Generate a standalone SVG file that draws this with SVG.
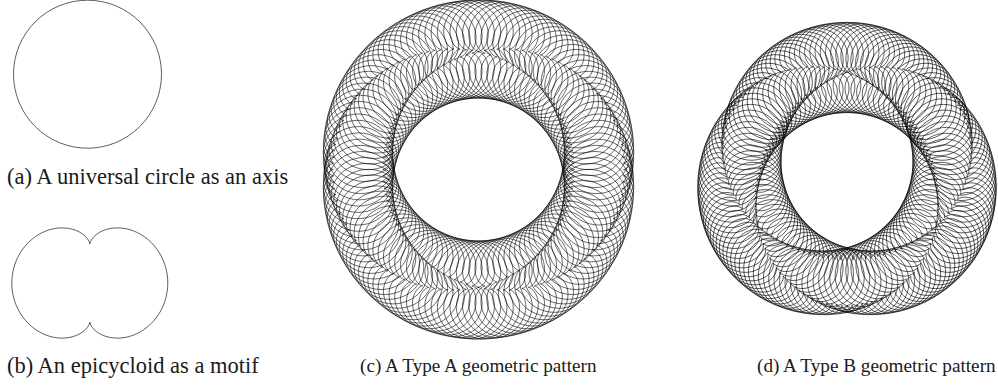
<svg xmlns="http://www.w3.org/2000/svg" xmlns:xlink="http://www.w3.org/1999/xlink" width="998" height="385" viewBox="0 0 998 385">
<style>
.lbl{font-family:"Liberation Serif","Times New Roman",serif;fill:#1a1a1a}
.big{font-size:22.5px}
.sm{font-size:19.2px}
.pat{fill:none;stroke:#000}
</style>
<defs>
<path id="u" d="M2,0C2,0 2.0733,0.0016 2.1907,0.0694C2.308,0.1371 2.4672,0.2733 2.5981,0.5C2.729,0.7267 2.8284,1.044 2.8284,1.4142C2.8284,1.7845 2.7267,2.2054 2.5,2.5981C2.2733,2.9908 1.9216,3.352 1.4836,3.6049C1.0456,3.8578 0.5236,4 0,4C-0.5236,4 -1.0456,3.8578 -1.4836,3.6049C-1.9216,3.352 -2.2733,2.9908 -2.5,2.5981C-2.7267,2.2054 -2.8284,1.7845 -2.8284,1.4142C-2.8284,1.044 -2.729,0.7267 -2.5981,0.5C-2.4672,0.2733 -2.308,0.1371 -2.1907,0.0694C-2.0733,0.0016 -2,0 -2,0C-2,0 -2.0733,-0.0016 -2.1907,-0.0694C-2.308,-0.1371 -2.4672,-0.2733 -2.5981,-0.5C-2.729,-0.7267 -2.8284,-1.044 -2.8284,-1.4142C-2.8284,-1.7845 -2.7267,-2.2054 -2.5,-2.5981C-2.2733,-2.9908 -1.9216,-3.352 -1.4836,-3.6049C-1.0456,-3.8578 -0.5236,-4 0,-4C0.5236,-4 1.0456,-3.8578 1.4836,-3.6049C1.9216,-3.352 2.2733,-2.9908 2.5,-2.5981C2.7267,-2.2054 2.8284,-1.7845 2.8284,-1.4142C2.8284,-1.044 2.729,-0.7267 2.5981,-0.5C2.4672,-0.2733 2.308,-0.1371 2.1907,-0.0694C2.0733,-0.0016 2,0 2,0Z"/>
<use id="nc" xlink:href="#u" href="#u" transform="scale(12.3)" stroke-width="0.048"/>
<use id="nd" xlink:href="#u" href="#u" transform="scale(11.3)" stroke-width="0.052"/>
</defs>
<rect width="998" height="385" fill="#fff"/>
<g id="fig-a">
<circle cx="87.5" cy="74.2" r="74" fill="none" stroke="#333" stroke-width="0.8"/>
<text class="lbl big" x="7" y="184">(a) A universal circle as an axis</text>
</g>
<g id="fig-b">
<use xlink:href="#u" href="#u" transform="translate(89.8,283) rotate(90) scale(19.5)" fill="none" stroke="#333" stroke-width="0.041"/>
<text class="lbl big" x="7" y="373">(b) An epicycloid as a motif</text>
</g>
<g id="fig-c">
<g class="pat" transform="translate(478.5,169.5)">
<use href="#nc" transform="rotate(0) translate(120.5) rotate(0)"/>
<use href="#nc" transform="rotate(3) translate(120.5) rotate(-3)"/>
<use href="#nc" transform="rotate(6) translate(120.5) rotate(-6)"/>
<use href="#nc" transform="rotate(9) translate(120.5) rotate(-9)"/>
<use href="#nc" transform="rotate(12) translate(120.5) rotate(-12)"/>
<use href="#nc" transform="rotate(15) translate(120.5) rotate(-15)"/>
<use href="#nc" transform="rotate(18) translate(120.5) rotate(-18)"/>
<use href="#nc" transform="rotate(21) translate(120.5) rotate(-21)"/>
<use href="#nc" transform="rotate(24) translate(120.5) rotate(-24)"/>
<use href="#nc" transform="rotate(27) translate(120.5) rotate(-27)"/>
<use href="#nc" transform="rotate(30) translate(120.5) rotate(-30)"/>
<use href="#nc" transform="rotate(33) translate(120.5) rotate(-33)"/>
<use href="#nc" transform="rotate(36) translate(120.5) rotate(-36)"/>
<use href="#nc" transform="rotate(39) translate(120.5) rotate(-39)"/>
<use href="#nc" transform="rotate(42) translate(120.5) rotate(-42)"/>
<use href="#nc" transform="rotate(45) translate(120.5) rotate(-45)"/>
<use href="#nc" transform="rotate(48) translate(120.5) rotate(-48)"/>
<use href="#nc" transform="rotate(51) translate(120.5) rotate(-51)"/>
<use href="#nc" transform="rotate(54) translate(120.5) rotate(-54)"/>
<use href="#nc" transform="rotate(57) translate(120.5) rotate(-57)"/>
<use href="#nc" transform="rotate(60) translate(120.5) rotate(-60)"/>
<use href="#nc" transform="rotate(63) translate(120.5) rotate(-63)"/>
<use href="#nc" transform="rotate(66) translate(120.5) rotate(-66)"/>
<use href="#nc" transform="rotate(69) translate(120.5) rotate(-69)"/>
<use href="#nc" transform="rotate(72) translate(120.5) rotate(-72)"/>
<use href="#nc" transform="rotate(75) translate(120.5) rotate(-75)"/>
<use href="#nc" transform="rotate(78) translate(120.5) rotate(-78)"/>
<use href="#nc" transform="rotate(81) translate(120.5) rotate(-81)"/>
<use href="#nc" transform="rotate(84) translate(120.5) rotate(-84)"/>
<use href="#nc" transform="rotate(87) translate(120.5) rotate(-87)"/>
<use href="#nc" transform="rotate(90) translate(120.5) rotate(-90)"/>
<use href="#nc" transform="rotate(93) translate(120.5) rotate(-93)"/>
<use href="#nc" transform="rotate(96) translate(120.5) rotate(-96)"/>
<use href="#nc" transform="rotate(99) translate(120.5) rotate(-99)"/>
<use href="#nc" transform="rotate(102) translate(120.5) rotate(-102)"/>
<use href="#nc" transform="rotate(105) translate(120.5) rotate(-105)"/>
<use href="#nc" transform="rotate(108) translate(120.5) rotate(-108)"/>
<use href="#nc" transform="rotate(111) translate(120.5) rotate(-111)"/>
<use href="#nc" transform="rotate(114) translate(120.5) rotate(-114)"/>
<use href="#nc" transform="rotate(117) translate(120.5) rotate(-117)"/>
<use href="#nc" transform="rotate(120) translate(120.5) rotate(-120)"/>
<use href="#nc" transform="rotate(123) translate(120.5) rotate(-123)"/>
<use href="#nc" transform="rotate(126) translate(120.5) rotate(-126)"/>
<use href="#nc" transform="rotate(129) translate(120.5) rotate(-129)"/>
<use href="#nc" transform="rotate(132) translate(120.5) rotate(-132)"/>
<use href="#nc" transform="rotate(135) translate(120.5) rotate(-135)"/>
<use href="#nc" transform="rotate(138) translate(120.5) rotate(-138)"/>
<use href="#nc" transform="rotate(141) translate(120.5) rotate(-141)"/>
<use href="#nc" transform="rotate(144) translate(120.5) rotate(-144)"/>
<use href="#nc" transform="rotate(147) translate(120.5) rotate(-147)"/>
<use href="#nc" transform="rotate(150) translate(120.5) rotate(-150)"/>
<use href="#nc" transform="rotate(153) translate(120.5) rotate(-153)"/>
<use href="#nc" transform="rotate(156) translate(120.5) rotate(-156)"/>
<use href="#nc" transform="rotate(159) translate(120.5) rotate(-159)"/>
<use href="#nc" transform="rotate(162) translate(120.5) rotate(-162)"/>
<use href="#nc" transform="rotate(165) translate(120.5) rotate(-165)"/>
<use href="#nc" transform="rotate(168) translate(120.5) rotate(-168)"/>
<use href="#nc" transform="rotate(171) translate(120.5) rotate(-171)"/>
<use href="#nc" transform="rotate(174) translate(120.5) rotate(-174)"/>
<use href="#nc" transform="rotate(177) translate(120.5) rotate(-177)"/>
<use href="#nc" transform="rotate(180) translate(120.5) rotate(-180)"/>
<use href="#nc" transform="rotate(183) translate(120.5) rotate(-183)"/>
<use href="#nc" transform="rotate(186) translate(120.5) rotate(-186)"/>
<use href="#nc" transform="rotate(189) translate(120.5) rotate(-189)"/>
<use href="#nc" transform="rotate(192) translate(120.5) rotate(-192)"/>
<use href="#nc" transform="rotate(195) translate(120.5) rotate(-195)"/>
<use href="#nc" transform="rotate(198) translate(120.5) rotate(-198)"/>
<use href="#nc" transform="rotate(201) translate(120.5) rotate(-201)"/>
<use href="#nc" transform="rotate(204) translate(120.5) rotate(-204)"/>
<use href="#nc" transform="rotate(207) translate(120.5) rotate(-207)"/>
<use href="#nc" transform="rotate(210) translate(120.5) rotate(-210)"/>
<use href="#nc" transform="rotate(213) translate(120.5) rotate(-213)"/>
<use href="#nc" transform="rotate(216) translate(120.5) rotate(-216)"/>
<use href="#nc" transform="rotate(219) translate(120.5) rotate(-219)"/>
<use href="#nc" transform="rotate(222) translate(120.5) rotate(-222)"/>
<use href="#nc" transform="rotate(225) translate(120.5) rotate(-225)"/>
<use href="#nc" transform="rotate(228) translate(120.5) rotate(-228)"/>
<use href="#nc" transform="rotate(231) translate(120.5) rotate(-231)"/>
<use href="#nc" transform="rotate(234) translate(120.5) rotate(-234)"/>
<use href="#nc" transform="rotate(237) translate(120.5) rotate(-237)"/>
<use href="#nc" transform="rotate(240) translate(120.5) rotate(-240)"/>
<use href="#nc" transform="rotate(243) translate(120.5) rotate(-243)"/>
<use href="#nc" transform="rotate(246) translate(120.5) rotate(-246)"/>
<use href="#nc" transform="rotate(249) translate(120.5) rotate(-249)"/>
<use href="#nc" transform="rotate(252) translate(120.5) rotate(-252)"/>
<use href="#nc" transform="rotate(255) translate(120.5) rotate(-255)"/>
<use href="#nc" transform="rotate(258) translate(120.5) rotate(-258)"/>
<use href="#nc" transform="rotate(261) translate(120.5) rotate(-261)"/>
<use href="#nc" transform="rotate(264) translate(120.5) rotate(-264)"/>
<use href="#nc" transform="rotate(267) translate(120.5) rotate(-267)"/>
<use href="#nc" transform="rotate(270) translate(120.5) rotate(-270)"/>
<use href="#nc" transform="rotate(273) translate(120.5) rotate(-273)"/>
<use href="#nc" transform="rotate(276) translate(120.5) rotate(-276)"/>
<use href="#nc" transform="rotate(279) translate(120.5) rotate(-279)"/>
<use href="#nc" transform="rotate(282) translate(120.5) rotate(-282)"/>
<use href="#nc" transform="rotate(285) translate(120.5) rotate(-285)"/>
<use href="#nc" transform="rotate(288) translate(120.5) rotate(-288)"/>
<use href="#nc" transform="rotate(291) translate(120.5) rotate(-291)"/>
<use href="#nc" transform="rotate(294) translate(120.5) rotate(-294)"/>
<use href="#nc" transform="rotate(297) translate(120.5) rotate(-297)"/>
<use href="#nc" transform="rotate(300) translate(120.5) rotate(-300)"/>
<use href="#nc" transform="rotate(303) translate(120.5) rotate(-303)"/>
<use href="#nc" transform="rotate(306) translate(120.5) rotate(-306)"/>
<use href="#nc" transform="rotate(309) translate(120.5) rotate(-309)"/>
<use href="#nc" transform="rotate(312) translate(120.5) rotate(-312)"/>
<use href="#nc" transform="rotate(315) translate(120.5) rotate(-315)"/>
<use href="#nc" transform="rotate(318) translate(120.5) rotate(-318)"/>
<use href="#nc" transform="rotate(321) translate(120.5) rotate(-321)"/>
<use href="#nc" transform="rotate(324) translate(120.5) rotate(-324)"/>
<use href="#nc" transform="rotate(327) translate(120.5) rotate(-327)"/>
<use href="#nc" transform="rotate(330) translate(120.5) rotate(-330)"/>
<use href="#nc" transform="rotate(333) translate(120.5) rotate(-333)"/>
<use href="#nc" transform="rotate(336) translate(120.5) rotate(-336)"/>
<use href="#nc" transform="rotate(339) translate(120.5) rotate(-339)"/>
<use href="#nc" transform="rotate(342) translate(120.5) rotate(-342)"/>
<use href="#nc" transform="rotate(345) translate(120.5) rotate(-345)"/>
<use href="#nc" transform="rotate(348) translate(120.5) rotate(-348)"/>
<use href="#nc" transform="rotate(351) translate(120.5) rotate(-351)"/>
<use href="#nc" transform="rotate(354) translate(120.5) rotate(-354)"/>
<use href="#nc" transform="rotate(357) translate(120.5) rotate(-357)"/>
</g>
<text class="lbl sm" x="360" y="372">(c) A Type A geometric pattern</text>
</g>
<g id="fig-d">
<g class="pat" transform="translate(847,175)">
<use href="#nd" transform="rotate(0) translate(107.5) rotate(135)"/>
<use href="#nd" transform="rotate(3) translate(107.5) rotate(130.5)"/>
<use href="#nd" transform="rotate(6) translate(107.5) rotate(126)"/>
<use href="#nd" transform="rotate(9) translate(107.5) rotate(121.5)"/>
<use href="#nd" transform="rotate(12) translate(107.5) rotate(117)"/>
<use href="#nd" transform="rotate(15) translate(107.5) rotate(112.5)"/>
<use href="#nd" transform="rotate(18) translate(107.5) rotate(108)"/>
<use href="#nd" transform="rotate(21) translate(107.5) rotate(103.5)"/>
<use href="#nd" transform="rotate(24) translate(107.5) rotate(99)"/>
<use href="#nd" transform="rotate(27) translate(107.5) rotate(94.5)"/>
<use href="#nd" transform="rotate(30) translate(107.5) rotate(90)"/>
<use href="#nd" transform="rotate(33) translate(107.5) rotate(85.5)"/>
<use href="#nd" transform="rotate(36) translate(107.5) rotate(81)"/>
<use href="#nd" transform="rotate(39) translate(107.5) rotate(76.5)"/>
<use href="#nd" transform="rotate(42) translate(107.5) rotate(72)"/>
<use href="#nd" transform="rotate(45) translate(107.5) rotate(67.5)"/>
<use href="#nd" transform="rotate(48) translate(107.5) rotate(63)"/>
<use href="#nd" transform="rotate(51) translate(107.5) rotate(58.5)"/>
<use href="#nd" transform="rotate(54) translate(107.5) rotate(54)"/>
<use href="#nd" transform="rotate(57) translate(107.5) rotate(49.5)"/>
<use href="#nd" transform="rotate(60) translate(107.5) rotate(45)"/>
<use href="#nd" transform="rotate(63) translate(107.5) rotate(40.5)"/>
<use href="#nd" transform="rotate(66) translate(107.5) rotate(36)"/>
<use href="#nd" transform="rotate(69) translate(107.5) rotate(31.5)"/>
<use href="#nd" transform="rotate(72) translate(107.5) rotate(27)"/>
<use href="#nd" transform="rotate(75) translate(107.5) rotate(22.5)"/>
<use href="#nd" transform="rotate(78) translate(107.5) rotate(18)"/>
<use href="#nd" transform="rotate(81) translate(107.5) rotate(13.5)"/>
<use href="#nd" transform="rotate(84) translate(107.5) rotate(9)"/>
<use href="#nd" transform="rotate(87) translate(107.5) rotate(4.5)"/>
<use href="#nd" transform="rotate(90) translate(107.5) rotate(0)"/>
<use href="#nd" transform="rotate(93) translate(107.5) rotate(-4.5)"/>
<use href="#nd" transform="rotate(96) translate(107.5) rotate(-9)"/>
<use href="#nd" transform="rotate(99) translate(107.5) rotate(-13.5)"/>
<use href="#nd" transform="rotate(102) translate(107.5) rotate(-18)"/>
<use href="#nd" transform="rotate(105) translate(107.5) rotate(-22.5)"/>
<use href="#nd" transform="rotate(108) translate(107.5) rotate(-27)"/>
<use href="#nd" transform="rotate(111) translate(107.5) rotate(-31.5)"/>
<use href="#nd" transform="rotate(114) translate(107.5) rotate(-36)"/>
<use href="#nd" transform="rotate(117) translate(107.5) rotate(-40.5)"/>
<use href="#nd" transform="rotate(120) translate(107.5) rotate(-45)"/>
<use href="#nd" transform="rotate(123) translate(107.5) rotate(-49.5)"/>
<use href="#nd" transform="rotate(126) translate(107.5) rotate(-54)"/>
<use href="#nd" transform="rotate(129) translate(107.5) rotate(-58.5)"/>
<use href="#nd" transform="rotate(132) translate(107.5) rotate(-63)"/>
<use href="#nd" transform="rotate(135) translate(107.5) rotate(-67.5)"/>
<use href="#nd" transform="rotate(138) translate(107.5) rotate(-72)"/>
<use href="#nd" transform="rotate(141) translate(107.5) rotate(-76.5)"/>
<use href="#nd" transform="rotate(144) translate(107.5) rotate(-81)"/>
<use href="#nd" transform="rotate(147) translate(107.5) rotate(-85.5)"/>
<use href="#nd" transform="rotate(150) translate(107.5) rotate(-90)"/>
<use href="#nd" transform="rotate(153) translate(107.5) rotate(-94.5)"/>
<use href="#nd" transform="rotate(156) translate(107.5) rotate(-99)"/>
<use href="#nd" transform="rotate(159) translate(107.5) rotate(-103.5)"/>
<use href="#nd" transform="rotate(162) translate(107.5) rotate(-108)"/>
<use href="#nd" transform="rotate(165) translate(107.5) rotate(-112.5)"/>
<use href="#nd" transform="rotate(168) translate(107.5) rotate(-117)"/>
<use href="#nd" transform="rotate(171) translate(107.5) rotate(-121.5)"/>
<use href="#nd" transform="rotate(174) translate(107.5) rotate(-126)"/>
<use href="#nd" transform="rotate(177) translate(107.5) rotate(-130.5)"/>
<use href="#nd" transform="rotate(180) translate(107.5) rotate(-135)"/>
<use href="#nd" transform="rotate(183) translate(107.5) rotate(-139.5)"/>
<use href="#nd" transform="rotate(186) translate(107.5) rotate(-144)"/>
<use href="#nd" transform="rotate(189) translate(107.5) rotate(-148.5)"/>
<use href="#nd" transform="rotate(192) translate(107.5) rotate(-153)"/>
<use href="#nd" transform="rotate(195) translate(107.5) rotate(-157.5)"/>
<use href="#nd" transform="rotate(198) translate(107.5) rotate(-162)"/>
<use href="#nd" transform="rotate(201) translate(107.5) rotate(-166.5)"/>
<use href="#nd" transform="rotate(204) translate(107.5) rotate(-171)"/>
<use href="#nd" transform="rotate(207) translate(107.5) rotate(-175.5)"/>
<use href="#nd" transform="rotate(210) translate(107.5) rotate(-180)"/>
<use href="#nd" transform="rotate(213) translate(107.5) rotate(-184.5)"/>
<use href="#nd" transform="rotate(216) translate(107.5) rotate(-189)"/>
<use href="#nd" transform="rotate(219) translate(107.5) rotate(-193.5)"/>
<use href="#nd" transform="rotate(222) translate(107.5) rotate(-198)"/>
<use href="#nd" transform="rotate(225) translate(107.5) rotate(-202.5)"/>
<use href="#nd" transform="rotate(228) translate(107.5) rotate(-207)"/>
<use href="#nd" transform="rotate(231) translate(107.5) rotate(-211.5)"/>
<use href="#nd" transform="rotate(234) translate(107.5) rotate(-216)"/>
<use href="#nd" transform="rotate(237) translate(107.5) rotate(-220.5)"/>
<use href="#nd" transform="rotate(240) translate(107.5) rotate(-225)"/>
<use href="#nd" transform="rotate(243) translate(107.5) rotate(-229.5)"/>
<use href="#nd" transform="rotate(246) translate(107.5) rotate(-234)"/>
<use href="#nd" transform="rotate(249) translate(107.5) rotate(-238.5)"/>
<use href="#nd" transform="rotate(252) translate(107.5) rotate(-243)"/>
<use href="#nd" transform="rotate(255) translate(107.5) rotate(-247.5)"/>
<use href="#nd" transform="rotate(258) translate(107.5) rotate(-252)"/>
<use href="#nd" transform="rotate(261) translate(107.5) rotate(-256.5)"/>
<use href="#nd" transform="rotate(264) translate(107.5) rotate(-261)"/>
<use href="#nd" transform="rotate(267) translate(107.5) rotate(-265.5)"/>
<use href="#nd" transform="rotate(270) translate(107.5) rotate(-270)"/>
<use href="#nd" transform="rotate(273) translate(107.5) rotate(-274.5)"/>
<use href="#nd" transform="rotate(276) translate(107.5) rotate(-279)"/>
<use href="#nd" transform="rotate(279) translate(107.5) rotate(-283.5)"/>
<use href="#nd" transform="rotate(282) translate(107.5) rotate(-288)"/>
<use href="#nd" transform="rotate(285) translate(107.5) rotate(-292.5)"/>
<use href="#nd" transform="rotate(288) translate(107.5) rotate(-297)"/>
<use href="#nd" transform="rotate(291) translate(107.5) rotate(-301.5)"/>
<use href="#nd" transform="rotate(294) translate(107.5) rotate(-306)"/>
<use href="#nd" transform="rotate(297) translate(107.5) rotate(-310.5)"/>
<use href="#nd" transform="rotate(300) translate(107.5) rotate(-315)"/>
<use href="#nd" transform="rotate(303) translate(107.5) rotate(-319.5)"/>
<use href="#nd" transform="rotate(306) translate(107.5) rotate(-324)"/>
<use href="#nd" transform="rotate(309) translate(107.5) rotate(-328.5)"/>
<use href="#nd" transform="rotate(312) translate(107.5) rotate(-333)"/>
<use href="#nd" transform="rotate(315) translate(107.5) rotate(-337.5)"/>
<use href="#nd" transform="rotate(318) translate(107.5) rotate(-342)"/>
<use href="#nd" transform="rotate(321) translate(107.5) rotate(-346.5)"/>
<use href="#nd" transform="rotate(324) translate(107.5) rotate(-351)"/>
<use href="#nd" transform="rotate(327) translate(107.5) rotate(-355.5)"/>
<use href="#nd" transform="rotate(330) translate(107.5) rotate(-360)"/>
<use href="#nd" transform="rotate(333) translate(107.5) rotate(-364.5)"/>
<use href="#nd" transform="rotate(336) translate(107.5) rotate(-369)"/>
<use href="#nd" transform="rotate(339) translate(107.5) rotate(-373.5)"/>
<use href="#nd" transform="rotate(342) translate(107.5) rotate(-378)"/>
<use href="#nd" transform="rotate(345) translate(107.5) rotate(-382.5)"/>
<use href="#nd" transform="rotate(348) translate(107.5) rotate(-387)"/>
<use href="#nd" transform="rotate(351) translate(107.5) rotate(-391.5)"/>
<use href="#nd" transform="rotate(354) translate(107.5) rotate(-396)"/>
<use href="#nd" transform="rotate(357) translate(107.5) rotate(-400.5)"/>
</g>
<text class="lbl sm" x="757" y="372">(d) A Type B geometric pattern</text>
</g>
</svg>
